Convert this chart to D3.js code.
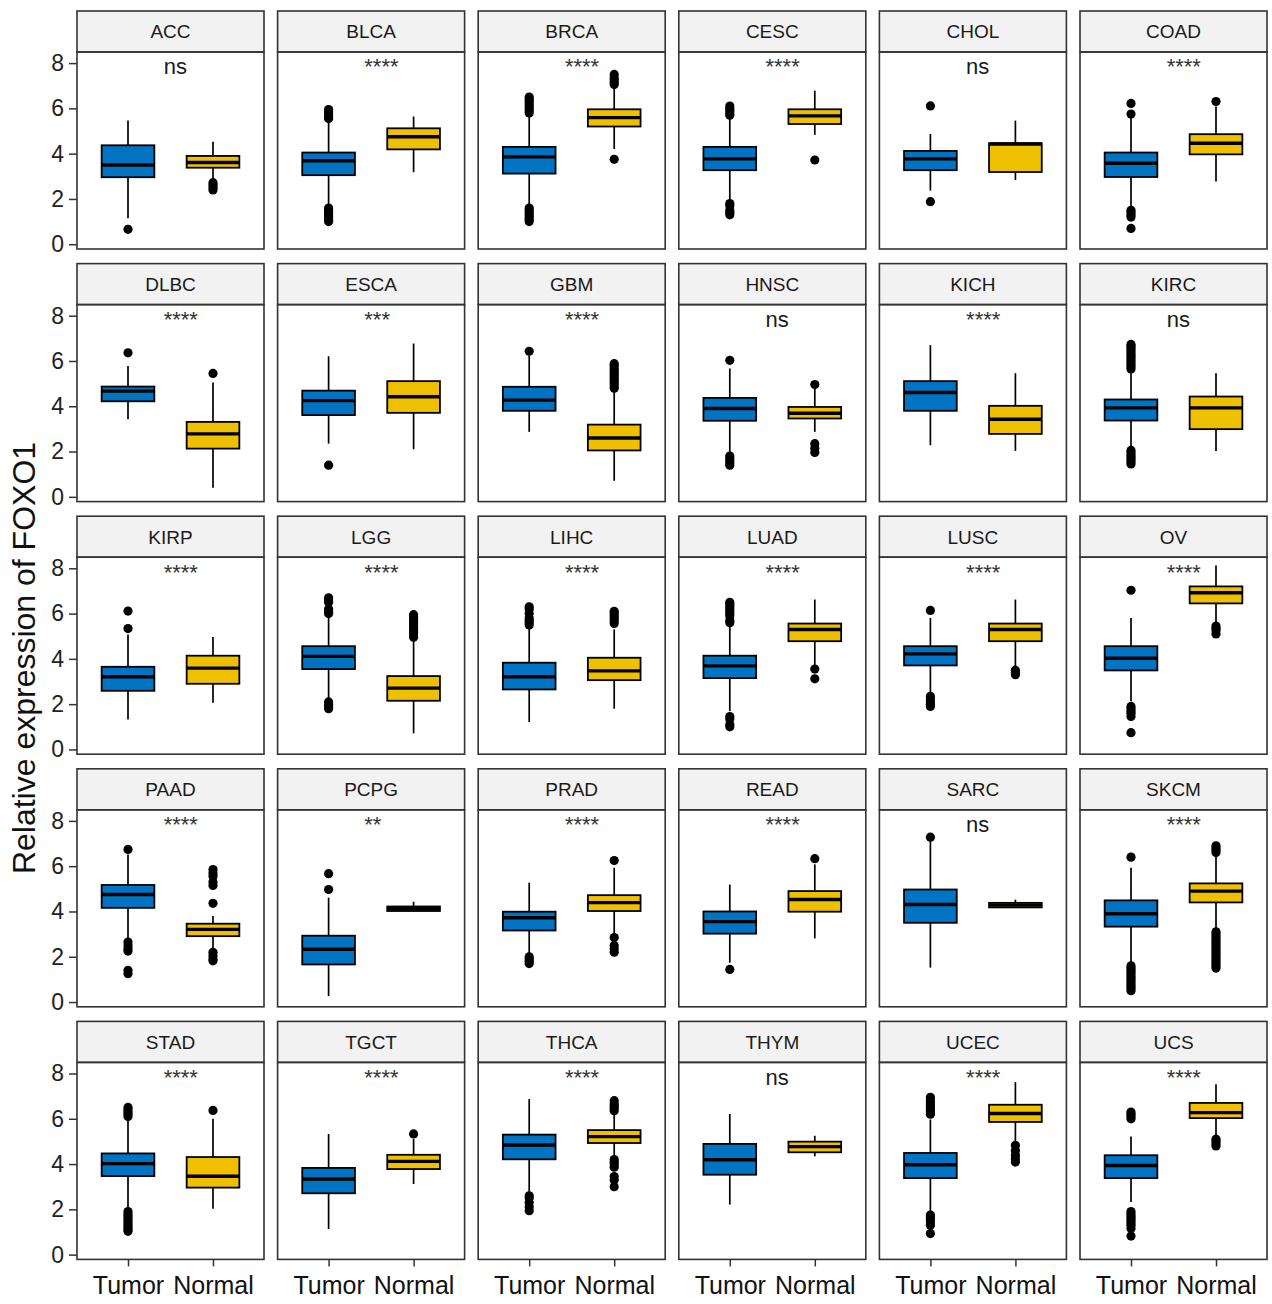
<!DOCTYPE html>
<html>
<head>
<meta charset="utf-8">
<script src="https://cdnjs.cloudflare.com/ajax/libs/d3/7.8.5/d3.min.js"></script>
<style>
    body { margin: 0; background: #fff; }
    svg { font-family: "Liberation Sans", Arial, sans-serif; }
</style>
</head>
<body>
<div id="chart"></div>
<script>

// cancer types, one facet each
const cancers = ["ACC","BLCA","BRCA","CESC","CHOL","COAD",
                 "DLBC","ESCA","GBM","HNSC","KICH","KIRC",
                 "KIRP","LGG","LIHC","LUAD","LUSC","OV",
                 "PAAD","PCPG","PRAD","READ","SARC","SKCM",
                 "STAD","TGCT","THCA","THYM","UCEC","UCS"];

const signif = ["ns","****","****","****","ns","****",
                "****","***","****","ns","****","ns",
                "****","****","****","****","****","****",
                "****","**","****","****","ns","****",
                "****","****","****","ns","****","****"];

const groups = ["Tumor", "Normal"];
const yTicks = [0, 2, 4, 6, 8];

// [lower whisker, q1, median, q3, upper whisker]
const tumorBox = [
    [1.15, 2.96, 3.50, 4.37, 5.46], [1.66, 3.05, 3.69, 4.05, 5.49], [1.66, 3.12, 3.86, 4.30, 5.75],
    [1.88, 3.27, 3.77, 4.30, 5.64], [2.37, 3.27, 3.77, 4.12, 4.87], [1.66, 2.97, 3.58, 4.05, 5.62],
    [3.43, 4.22, 4.67, 4.87, 5.78], [2.35, 3.61, 4.25, 4.69, 6.21], [2.87, 3.80, 4.27, 4.86, 6.25],
    [1.91, 3.36, 3.90, 4.37, 5.67], [2.28, 3.80, 4.61, 5.11, 6.70], [2.13, 3.37, 3.93, 4.30, 5.59],
    [1.32, 2.59, 3.21, 3.65, 5.08], [2.21, 3.55, 4.11, 4.56, 5.89], [1.21, 2.65, 3.21, 3.83, 5.42],
    [1.69, 3.15, 3.69, 4.14, 5.52], [2.47, 3.71, 4.22, 4.56, 5.81], [2.13, 3.49, 4.03, 4.56, 5.81],
    [2.77, 4.16, 4.75, 5.17, 6.52], [0.26, 1.66, 2.33, 2.93, 4.61], [2.10, 3.16, 3.72, 3.99, 5.27],
    [1.74, 3.02, 3.55, 4.00, 5.19], [1.52, 3.50, 4.31, 4.97, 7.11], [1.66, 3.33, 3.90, 4.49, 5.93],
    [1.99, 3.47, 4.02, 4.47, 6.00], [1.13, 2.71, 3.34, 3.83, 5.33], [2.68, 4.21, 4.84, 5.30, 6.87],
    [2.21, 3.53, 4.19, 4.89, 6.21], [1.81, 3.38, 3.97, 4.49, 5.97], [2.33, 3.38, 3.94, 4.39, 5.22]
];

const normalBox = [
    [2.84, 3.38, 3.61, 3.90, 4.53], [3.18, 4.19, 4.75, 5.12, 5.64], [4.21, 5.20, 5.59, 5.96, 6.99],
    [4.83, 5.31, 5.67, 5.96, 6.78], [2.84, 3.19, 4.43, 4.46, 5.46], [2.77, 3.97, 4.46, 4.86, 6.08],
    [0.40, 2.13, 2.78, 3.31, 5.05], [2.10, 3.71, 4.42, 5.11, 6.77], [0.71, 2.05, 2.60, 3.19, 4.71],
    [2.87, 3.46, 3.69, 3.97, 4.78], [2.03, 2.78, 3.43, 4.02, 5.46], [2.03, 2.99, 3.93, 4.43, 5.46],
    [2.06, 2.90, 3.59, 4.14, 4.97], [0.71, 2.15, 2.71, 3.24, 4.86], [1.80, 3.06, 3.47, 4.05, 5.30],
    [3.71, 4.78, 5.30, 5.56, 6.62], [3.68, 4.78, 5.30, 5.56, 6.62], [5.52, 6.45, 6.92, 7.20, 8.12],
    [2.33, 2.91, 3.21, 3.46, 3.80], [4.00, 4.02, 4.12, 4.22, 4.43], [2.91, 4.02, 4.39, 4.72, 5.93],
    [2.81, 3.99, 4.53, 4.90, 6.08], [4.16, 4.18, 4.28, 4.38, 4.52], [3.21, 4.40, 4.90, 5.24, 6.52],
    [2.03, 2.96, 3.46, 4.31, 6.00], [3.12, 3.78, 4.12, 4.41, 5.11], [4.30, 4.93, 5.21, 5.50, 6.28],
    [4.34, 4.52, 4.77, 4.99, 5.25], [4.97, 5.86, 6.23, 6.62, 7.62], [5.19, 6.03, 6.27, 6.70, 7.53]
];

const tumorOut = [
    [0.66],
    [5.55, 5.65, 5.75, 5.85, 5.95, 1.6, 1.5, 1.4, 1.3, 1.2, 1.1, 1.0],
    [5.8, 5.9, 6.0, 6.1, 6.2, 6.3, 6.4, 6.5, 1.6, 1.5, 1.4, 1.3, 1.2, 1.1, 1.0],
    [5.7, 5.8, 5.9, 6.0, 6.1, 1.8, 1.7, 1.5, 1.4, 1.3],
    [6.11, 1.88],
    [6.22, 5.75, 1.5, 1.4, 1.3, 1.2, 0.7],
    [6.36],
    [1.40],
    [6.43],
    [6.03, 1.8, 1.7, 1.6, 1.5, 1.4],
    [],
    [5.65, 5.75, 5.85, 5.95, 6.05, 6.15, 6.25, 6.35, 6.45, 6.55, 6.65, 6.73, 2.05, 1.95, 1.85, 1.75, 1.65, 1.55, 1.45],
    [6.11, 5.34],
    [6.0, 6.1, 6.2, 6.5, 6.6, 6.7, 2.1, 2.0, 1.9, 1.8],
    [5.5, 5.6, 5.7, 5.8, 6.0, 6.2, 6.3],
    [5.6, 5.7, 5.9, 6.0, 6.1, 6.2, 6.3, 6.4, 6.5, 1.45, 1.35, 1.1, 1.0],
    [6.14, 2.35, 2.2, 2.1, 2.0, 1.9],
    [7.03, 1.9, 1.8, 1.7, 1.6, 1.45, 0.74],
    [6.74, 2.65, 2.5, 2.35, 2.25, 1.4, 1.25],
    [5.67, 4.97],
    [2.0, 1.9, 1.8, 1.7],
    [1.44],
    [7.28],
    [6.40, 1.6, 1.5, 1.4, 1.3, 1.2, 1.1, 1.0, 0.9, 0.8, 0.7, 0.6, 0.5],
    [6.1, 6.2, 6.3, 6.4, 6.5, 1.9, 1.8, 1.7, 1.6, 1.5, 1.4, 1.3, 1.2, 1.1, 1.03],
    [],
    [2.6, 2.5, 2.3, 2.1, 1.94],
    [],
    [6.2, 6.3, 6.4, 6.5, 6.6, 6.7, 6.8, 6.95, 1.75, 1.65, 1.55, 1.45, 1.3, 0.93],
    [6.3, 6.2, 6.1, 6.0, 1.9, 1.8, 1.7, 1.6, 1.5, 1.4, 1.3, 1.15, 0.82]
];

const normalOut = [
    [2.72, 2.6, 2.5, 2.4],
    [],
    [7.05, 7.15, 7.25, 7.35, 7.5, 3.75],
    [3.72],
    [],
    [6.3],
    [5.45],
    [],
    [4.8, 4.9, 5.0, 5.1, 5.2, 5.3, 5.4, 5.5, 5.6, 5.7, 5.8, 5.88],
    [4.96, 2.35, 2.15, 1.96],
    [],
    [],
    [],
    [4.95, 5.05, 5.15, 5.25, 5.35, 5.45, 5.55, 5.65, 5.75, 5.85, 5.95],
    [5.56, 5.7, 5.8, 5.9, 6.0, 6.1],
    [3.55, 3.12],
    [3.5, 3.4, 3.3],
    [5.45, 5.35, 5.25, 5.1],
    [5.85, 5.7, 5.55, 5.3, 5.15, 4.36, 2.2, 2.05, 1.9, 1.82],
    [],
    [6.25, 2.85, 2.5, 2.35, 2.2],
    [6.33],
    [],
    [6.6, 6.7, 6.8, 6.9, 3.1, 3.0, 2.9, 2.8, 2.7, 2.6, 2.5, 2.4, 2.3, 2.2, 2.1, 2.0, 1.9, 1.8, 1.7, 1.6, 1.5],
    [6.37],
    [5.33],
    [6.35, 6.45, 6.55, 6.65, 6.8, 4.2, 4.1, 4.0, 3.86, 3.45, 3.3, 3.0],
    [],
    [4.83, 4.6, 4.4, 4.25, 4.09],
    [5.1, 5.0, 4.9, 4.8]
];

const fills = {"Tumor": "#0073C2", "Normal": "#EFC000"};

// layout of the facet grid
let width = 1272, height = 1304;
let nCol = 6;
let colLeft = 77, colStep = 200.6, panelW = 187;
let rowTop = 11, rowStep = 252.6, stripH = 41, panelH = 197;
let nRow = Math.ceil(cancers.length / nCol);

let svg = d3.select("#chart").append("svg")
    .attr("width", width)
    .attr("height", height);

svg.append("rect")
    .attr("width", width)
    .attr("height", height)
    .attr("fill", "#fff");

let x = d3.scalePoint()
    .domain(groups)
    .range([0, panelW])
    .padding(0.6);

let y = d3.scaleLinear()
    .domain([-0.21, 8.49])
    .range([panelH, 0]);

let boxW = x.step() * 0.62;

cancers.forEach((name, i) => {
    let col = i % nCol;
    let row = Math.floor(i / nCol);
    let g = svg.append("g")
        .attr("transform", `translate(${colLeft + col * colStep}, ${rowTop + row * rowStep})`);

    // strip on top
    g.append("rect")
        .attr("width", panelW)
        .attr("height", stripH)
        .attr("fill", "#f2f2f2")
        .attr("stroke", "#333")
        .attr("stroke-width", 1.6);
    g.append("text")
        .attr("x", panelW / 2)
        .attr("y", stripH / 2)
        .attr("dy", "0.36em")
        .attr("text-anchor", "middle")
        .attr("font-size", 19)
        .attr("fill", "#1a1a1a")
        .text(name);

    let p = g.append("g").attr("transform", `translate(0, ${stripH})`);

    let boxes = [
        {grp: "Tumor", s: tumorBox[i], out: tumorOut[i]},
        {grp: "Normal", s: normalBox[i], out: normalOut[i]}
    ];

    boxes.forEach(b => {
        let cx = x(b.grp);
        // outliers
        p.selectAll(null)
            .data(b.out)
            .enter()
            .append("circle")
            .attr("cx", cx)
            .attr("cy", d => y(d))
            .attr("r", 4.6)
            .attr("fill", "#000");
        // whiskers
        p.append("line")
            .attr("x1", cx).attr("x2", cx)
            .attr("y1", y(b.s[0])).attr("y2", y(b.s[1]))
            .attr("stroke", "#000").attr("stroke-width", 1.7);
        p.append("line")
            .attr("x1", cx).attr("x2", cx)
            .attr("y1", y(b.s[3])).attr("y2", y(b.s[4]))
            .attr("stroke", "#000").attr("stroke-width", 1.7);
        // box
        p.append("rect")
            .attr("x", cx - boxW / 2)
            .attr("y", y(b.s[3]))
            .attr("width", boxW)
            .attr("height", y(b.s[1]) - y(b.s[3]))
            .attr("fill", fills[b.grp])
            .attr("stroke", "#000")
            .attr("stroke-width", 1.8);
        // median
        p.append("line")
            .attr("x1", cx - boxW / 2).attr("x2", cx + boxW / 2)
            .attr("y1", y(b.s[2])).attr("y2", y(b.s[2]))
            .attr("stroke", "#000").attr("stroke-width", 3.4);
    });

    // significance label
    p.append("text")
        .attr("x", x("Tumor") + x.step() * 0.42)
        .attr("y", y(7.5))
        .attr("font-size", 22)
        .attr("fill", signif[i] == "ns" ? "#1a1a1a" : "#333")
        .text(signif[i]);

    // panel border
    p.append("rect")
        .attr("width", panelW)
        .attr("height", panelH)
        .attr("fill", "none")
        .attr("stroke", "#333")
        .attr("stroke-width", 1.6);

    // y axis on first column only
    if (col == 0) {
        let ya = p.append("g")
            .call(d3.axisLeft(y).tickValues(yTicks).tickSize(8).tickPadding(5));
        ya.select(".domain").remove();
        ya.selectAll(".tick line").attr("stroke", "#333").attr("stroke-width", 1.5);
        ya.selectAll(".tick text")
            .attr("font-size", 23)
            .attr("font-family", "Liberation Sans, Arial, sans-serif")
            .attr("fill", "#222");
    }

    // x axis on bottom row only
    if (row == nRow - 1) {
        let xa = p.append("g")
            .attr("transform", `translate(0, ${panelH})`)
            .call(d3.axisBottom(x).tickSize(7).tickPadding(10));
        xa.select(".domain").remove();
        xa.selectAll(".tick line").attr("stroke", "#333").attr("stroke-width", 1.5);
        xa.selectAll(".tick text")
            .attr("font-size", 25)
            .attr("font-family", "Liberation Sans, Arial, sans-serif")
            .attr("fill", "#111");
    }
});

// y axis title
svg.append("text")
    .attr("transform", "translate(35, 658) rotate(-90)")
    .attr("text-anchor", "middle")
    .attr("font-size", 32)
    .attr("fill", "#111")
    .text("Relative expression of FOXO1");

</script>
</body>
</html>
